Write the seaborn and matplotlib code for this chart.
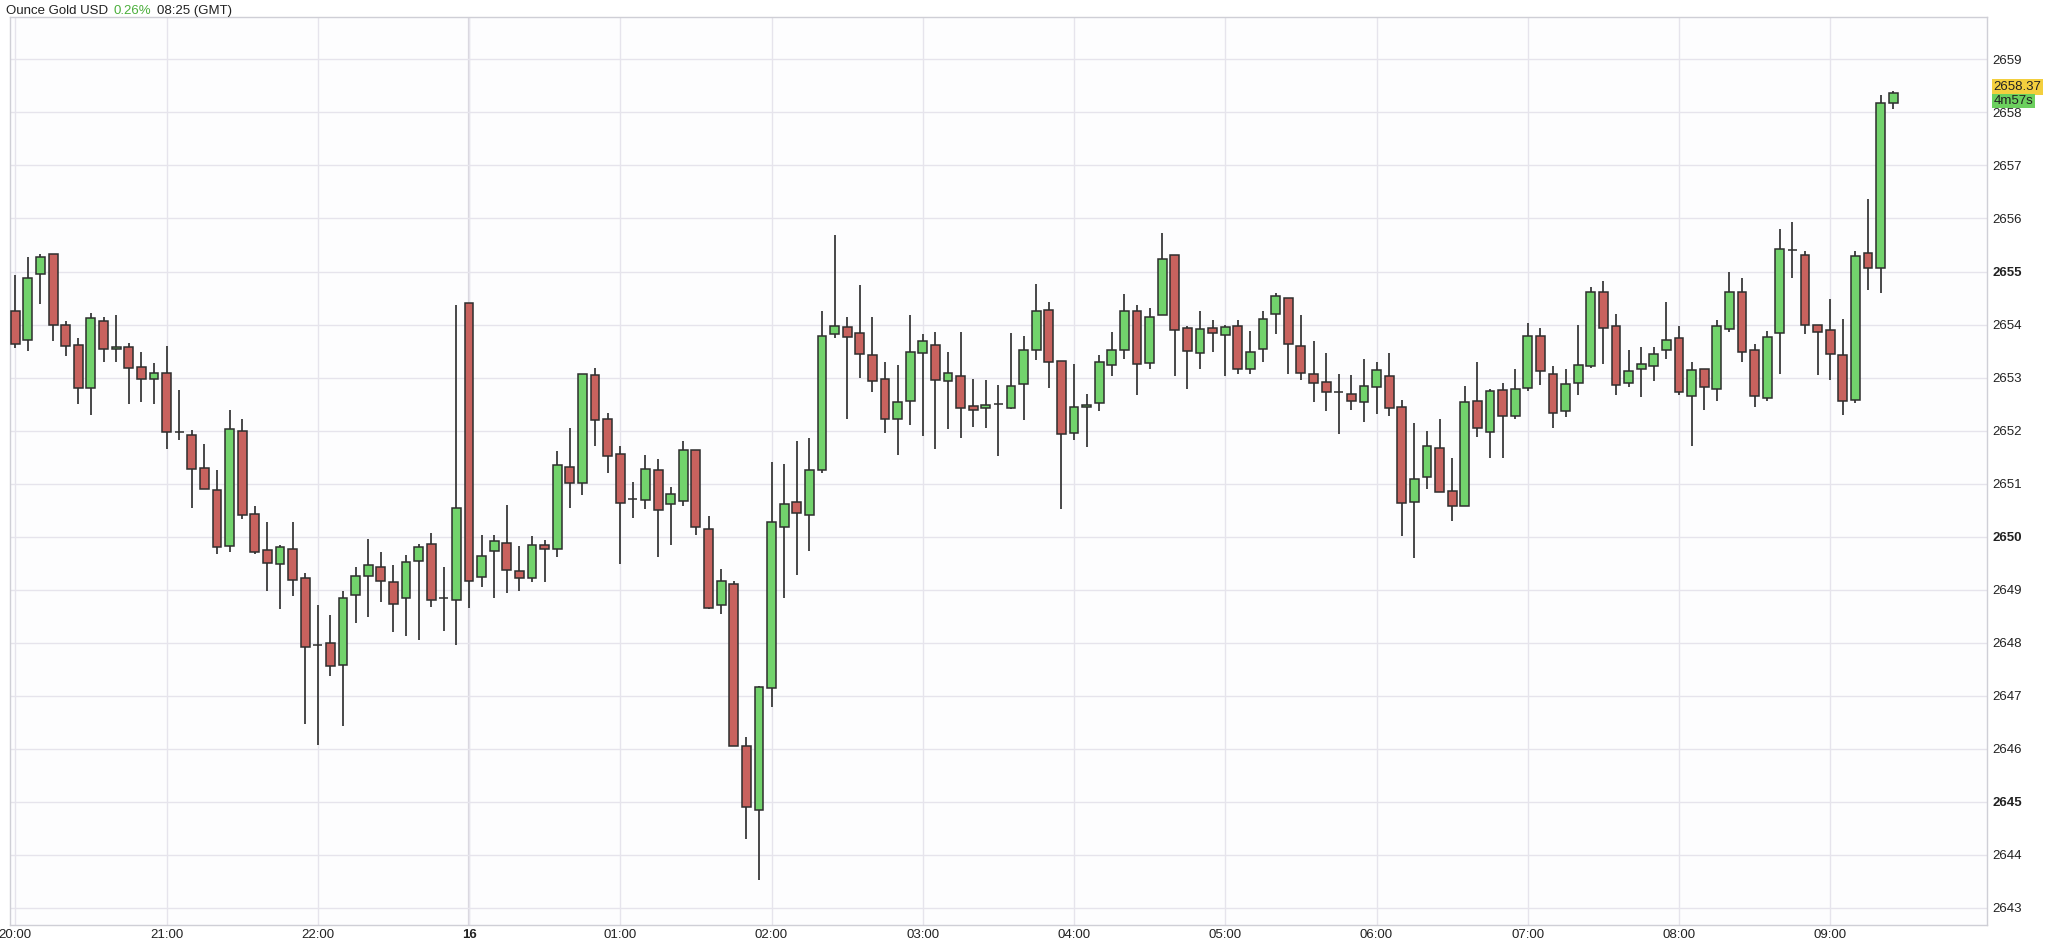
import matplotlib
matplotlib.use("Agg")
import matplotlib.pyplot as plt
import seaborn as sns
import numpy as np

opens = [2654.25,2653.71,2654.95,2655.33,2654.0,2653.62,2652.81,2654.07,2653.53,2653.58,
         2653.2,2652.98,2653.08,2651.97,2651.92,2651.29,2650.89,2649.82,2652.0,2650.43,
         2649.75,2649.49,2649.77,2649.23,2647.96,2647.99,2647.59,2648.91,2649.26,2649.43,
         2649.15,2648.85,2649.54,2649.86,2648.84,2648.81,2654.41,2649.24,2649.73,2649.88,
         2649.36,2649.23,2649.84,2649.76,2651.32,2651.02,2653.05,2652.22,2651.56,2650.71,
         2650.69,2651.25,2650.62,2650.67,2651.63,2650.15,2648.72,2649.1,2646.05,2644.85,
         2647.14,2650.19,2650.65,2650.41,2651.26,2653.82,2653.95,2653.85,2653.43,2652.98,
         2652.22,2652.56,2653.47,2653.62,2652.93,2653.03,2652.47,2652.43,2652.5,2652.43,
         2652.88,2653.52,2654.28,2653.32,2651.96,2652.45,2652.53,2653.24,2653.52,2654.25,
         2653.27,2654.18,2655.31,2653.94,2653.47,2653.94,2653.8,2653.97,2653.16,2653.54,
         2654.2,2654.51,2653.59,2653.06,2652.92,2652.73,2652.69,2652.54,2652.82,2653.03,
         2652.45,2650.66,2651.12,2651.67,2650.86,2650.57,2652.56,2651.98,2652.76,2652.28,
         2652.81,2653.79,2653.06,2652.37,2652.9,2653.21,2654.62,2653.97,2652.9,2653.17,
         2653.22,2653.52,2653.75,2652.66,2653.16,2652.79,2653.92,2654.62,2653.52,2652.61,
         2653.84,2655.4,2655.31,2653.99,2653.89,2653.43,2652.58,2655.34,2655.07,2658.18]
highs = [2654.93,2655.27,2655.33,2655.33,2654.06,2653.75,2654.22,2654.15,2654.18,2653.66,
         2653.49,2653.27,2653.6,2652.77,2652.02,2651.75,2651.26,2652.38,2652.22,2650.58,
         2650.27,2649.85,2650.27,2649.32,2648.72,2648.53,2648.97,2649.43,2649.96,2649.72,
         2649.47,2649.66,2649.87,2650.07,2649.42,2654.37,2654.41,2650.04,2650.04,2650.6,
         2649.82,2650.02,2649.94,2651.62,2652.05,2653.07,2653.19,2652.33,2651.71,2651.03,
         2651.54,2651.46,2650.94,2651.8,2651.63,2650.39,2649.4,2649.17,2646.23,2647.19,
         2651.4,2651.37,2651.8,2651.86,2654.25,2655.69,2654.15,2654.74,2654.14,2653.29,
         2653.24,2654.18,2653.82,2653.86,2653.49,2653.86,2652.98,2652.95,2652.86,2653.84,
         2653.78,2654.76,2654.42,2653.32,2653.26,2652.69,2653.43,2653.86,2654.57,2654.37,
         2654.31,2655.72,2655.31,2653.97,2654.25,2654.08,2653.99,2654.08,2653.88,2654.25,
         2654.59,2654.51,2654.18,2653.69,2653.46,2653.07,2653.05,2653.35,2653.29,2653.46,
         2652.58,2652.14,2652.0,2652.22,2651.49,2652.84,2653.29,2652.78,2652.9,2653.16,
         2654.03,2653.94,2653.22,2653.16,2653.99,2654.71,2654.82,2654.2,2653.52,2653.58,
         2653.58,2654.42,2653.97,2653.29,2653.16,2654.08,2654.99,2654.88,2653.63,2653.88,
         2655.8,2655.94,2655.38,2653.99,2654.49,2654.11,2655.38,2656.37,2658.32,2658.4]
lows = [2653.55,2653.5,2654.39,2653.69,2653.41,2652.51,2652.3,2653.29,2653.29,2652.51,
        2652.54,2652.51,2651.66,2651.82,2650.55,2651.1,2649.68,2649.71,2650.33,2649.68,
        2648.98,2648.63,2648.89,2646.46,2646.08,2647.38,2646.44,2648.38,2648.49,2648.77,
        2648.21,2648.13,2648.05,2648.68,2648.23,2647.96,2648.66,2649.05,2648.85,2648.94,
        2648.97,2649.15,2649.15,2649.61,2650.55,2650.79,2651.71,2651.2,2649.49,2650.36,
        2650.53,2649.61,2649.85,2650.58,2650.04,2648.63,2648.55,2646.05,2644.31,2643.52,
        2646.79,2648.85,2649.28,2649.73,2651.2,2653.75,2652.22,2652.99,2652.73,2651.96,
        2651.54,2652.11,2651.89,2651.66,2652.03,2651.86,2652.07,2652.05,2651.52,2652.41,
        2652.2,2653.33,2652.81,2650.53,2651.82,2651.69,2652.37,2653.03,2653.35,2652.67,
        2653.16,2654.18,2653.03,2652.79,2653.16,2653.49,2653.03,2653.07,2653.07,2653.29,
        2653.82,2653.07,2652.95,2652.54,2652.37,2651.94,2652.39,2652.16,2652.31,2652.28,
        2650.02,2649.59,2650.9,2650.84,2650.29,2650.57,2651.88,2651.49,2651.49,2652.22,
        2652.75,2652.86,2652.05,2652.26,2652.67,2653.18,2653.26,2652.67,2652.82,2652.64,
        2652.93,2653.35,2652.67,2651.71,2652.39,2652.56,2653.86,2653.29,2652.45,2652.56,
        2653.07,2654.88,2653.82,2653.05,2652.95,2652.3,2652.53,2654.65,2654.59,2658.06]
closes = [2653.63,2654.87,2655.27,2654.0,2653.6,2652.81,2654.13,2653.53,2653.57,2653.19,
          2652.97,2653.08,2651.97,2651.97,2651.27,2650.9,2649.81,2652.03,2650.41,2649.72,
          2649.51,2649.81,2649.19,2647.93,2647.96,2647.56,2648.84,2649.25,2649.47,2649.16,
          2648.74,2649.53,2649.8,2648.8,2648.84,2650.55,2649.17,2649.63,2649.92,2649.37,
          2649.23,2649.84,2649.76,2651.35,2651.02,2653.07,2652.2,2651.52,2650.63,2650.71,
          2651.28,2650.51,2650.8,2651.63,2650.19,2648.66,2649.16,2646.05,2644.91,2647.16,
          2650.27,2650.62,2650.44,2651.25,2653.79,2653.97,2653.77,2653.44,2652.93,2652.22,
          2652.54,2653.49,2653.69,2652.95,2653.09,2652.42,2652.38,2652.48,2652.5,2652.84,
          2653.52,2654.25,2653.29,2651.94,2652.44,2652.49,2653.29,2653.52,2654.25,2653.25,
          2654.14,2655.24,2653.89,2653.5,2653.92,2653.85,2653.96,2653.16,2653.49,2654.11,
          2654.54,2653.63,2653.08,2652.9,2652.73,2652.73,2652.55,2652.84,2653.14,2652.42,
          2650.64,2651.09,2651.71,2650.84,2650.57,2652.54,2652.05,2652.75,2652.28,2652.79,
          2653.79,2653.12,2652.34,2652.88,2653.24,2654.62,2653.94,2652.86,2653.12,2653.25,
          2653.45,2653.71,2652.73,2653.14,2652.83,2653.97,2654.62,2653.49,2652.66,2653.76,
          2655.43,2655.4,2654.0,2653.86,2653.45,2652.56,2655.29,2655.07,2658.18,2658.37]

x_tick_pos = [0, 12, 24, 36, 48, 60, 72, 84, 96, 108, 120, 132, 144]
x_tick_labels = ["20:00", "21:00", "22:00", "16", "01:00", "02:00", "03:00",
                 "04:00", "05:00", "06:00", "07:00", "08:00", "09:00"]
y_ticks = list(range(2643, 2660))
last_price = 2658.37
countdown = "4m57s"

sns.set_theme(style="white")
plt.rcParams['font.family'] = ['Liberation Sans', 'DejaVu Sans']

fig = plt.figure(figsize=(20.48, 9.4), dpi=100)
ax = fig.add_axes([0.005, 0.016, 0.965, 0.966])
ax.set_facecolor("#fdfdfe")

o = np.array(opens); h = np.array(highs); l = np.array(lows); c = np.array(closes)
idx = np.arange(len(o))
up = c >= o
green = "#72d36c"; red = "#c8625e"; edge = "#2e2e2e"

ax.vlines(idx, l, h, color="#3a3a3a", linewidth=1.3, zorder=2)
ax.bar(idx[up], (c - o)[up], bottom=o[up], width=0.7, color=green,
       edgecolor=edge, linewidth=1.1, zorder=3)
ax.bar(idx[~up], (c - o)[~up], bottom=o[~up], width=0.7, color=red,
       edgecolor=edge, linewidth=1.1, zorder=3)

ax.set_xlim(-0.4, 156.4)
ax.set_ylim(2642.68, 2659.8)

ax.set_yticks(y_ticks)
ax.yaxis.tick_right()
ax.set_yticklabels([str(v) for v in y_ticks])
for lab, v in zip(ax.get_yticklabels(), y_ticks):
    lab.set_fontsize(9.5)
    lab.set_color("#222222")
    if v % 5 == 0:
        lab.set_fontweight("bold")
ax.set_xticks(x_tick_pos)
ax.set_xticklabels(x_tick_labels)
for lab, t in zip(ax.get_xticklabels(), x_tick_labels):
    lab.set_fontsize(9.5)
    lab.set_color("#222222")
    if t == "16":
        lab.set_fontweight("bold")
ax.tick_params(axis="y", length=0, pad=4)
ax.tick_params(axis="x", length=0, pad=3)

ax.grid(True, color="#e6e4ec", linewidth=1.0, zorder=0)
ax.axvline(36, color="#d8d6de", linewidth=1.6, zorder=0)
for s in ax.spines.values():
    s.set_color("#cfcfd6")
    s.set_linewidth(1.0)

# current price markers
ax.annotate(f"{last_price:.2f}", xy=(1.0, last_price), xycoords=("axes fraction", "data"),
            xytext=(5, 4), textcoords="offset points", fontsize=9.5, color="#222222",
            va="center", ha="left",
            bbox=dict(boxstyle="square,pad=0.15", fc="#f3cf3e", ec="none"))
ax.annotate(countdown, xy=(1.0, last_price), xycoords=("axes fraction", "data"),
            xytext=(5, -6), textcoords="offset points", fontsize=9.5, color="#222222",
            va="center", ha="left",
            bbox=dict(boxstyle="square,pad=0.1", fc="#6cd05e", ec="none"))

fig.text(0.003, 0.995, "Ounce Gold USD", fontsize=9.5, color="#222222", va="top", ha="left")
fig.text(0.0555, 0.995, "0.26%", fontsize=9.5, color="#4caf3c", va="top", ha="left")
fig.text(0.0765, 0.995, "08:25 (GMT)", fontsize=9.5, color="#222222", va="top", ha="left")

fig.savefig("out.png", dpi=100, facecolor="white")
